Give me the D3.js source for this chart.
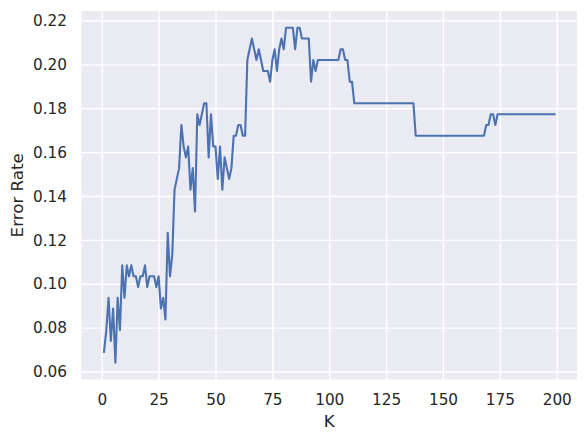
<!DOCTYPE html>
<html>
<head>
<meta charset="utf-8">
<script src="https://cdn.jsdelivr.net/npm/d3@7"></script>
<style>
  html, body { margin: 0; padding: 0; background: #ffffff; }
  svg { display: block; }
  text { font-family: "DejaVu Sans", sans-serif; fill: #262626; }
</style>
</head>
<body>
<svg id="chart" width="586" height="441"></svg>
<script>
// ---- data ----
const errorRate = [
  0.0690, 0.0788, 0.0936, 0.0739, 0.0887, 0.0640, 0.0936, 0.0788, 0.1084, 0.0936,
  0.1084, 0.1034, 0.1084, 0.1034, 0.1034, 0.0985, 0.1034, 0.1034, 0.1084, 0.0985,
  0.1034, 0.1034, 0.1034, 0.0985, 0.1034, 0.0887, 0.0936, 0.0837, 0.1232, 0.1034,
  0.1133, 0.1429, 0.1478, 0.1527, 0.1724, 0.1626, 0.1576, 0.1626, 0.1429, 0.1527,
  0.1330, 0.1773, 0.1724, 0.1773, 0.1823, 0.1823, 0.1576, 0.1773, 0.1626, 0.1626,
  0.1478, 0.1626, 0.1429, 0.1576, 0.1527, 0.1478, 0.1527, 0.1675, 0.1675, 0.1724,
  0.1724, 0.1675, 0.1675, 0.2020, 0.2069, 0.2118, 0.2069, 0.2020, 0.2069, 0.2020,
  0.1970, 0.1970, 0.1970, 0.1921, 0.2020, 0.2069, 0.1970, 0.2069, 0.2118, 0.2069,
  0.2167, 0.2167, 0.2167, 0.2167, 0.2069, 0.2167, 0.2167, 0.2118, 0.2118, 0.2118,
  0.2118, 0.1921, 0.2020, 0.1970, 0.2020, 0.2020, 0.2020, 0.2020, 0.2020, 0.2020,
  0.2020, 0.2020, 0.2020, 0.2020, 0.2069, 0.2069, 0.2020, 0.2020, 0.1921, 0.1921,
  0.1823, 0.1823, 0.1823, 0.1823, 0.1823, 0.1823, 0.1823, 0.1823, 0.1823, 0.1823,
  0.1823, 0.1823, 0.1823, 0.1823, 0.1823, 0.1823, 0.1823, 0.1823, 0.1823, 0.1823,
  0.1823, 0.1823, 0.1823, 0.1823, 0.1823, 0.1823, 0.1823, 0.1675, 0.1675, 0.1675,
  0.1675, 0.1675, 0.1675, 0.1675, 0.1675, 0.1675, 0.1675, 0.1675, 0.1675, 0.1675,
  0.1675, 0.1675, 0.1675, 0.1675, 0.1675, 0.1675, 0.1675, 0.1675, 0.1675, 0.1675,
  0.1675, 0.1675, 0.1675, 0.1675, 0.1675, 0.1675, 0.1675, 0.1675, 0.1724, 0.1724,
  0.1773, 0.1773, 0.1724, 0.1773, 0.1773, 0.1773, 0.1773, 0.1773, 0.1773, 0.1773,
  0.1773, 0.1773, 0.1773, 0.1773, 0.1773, 0.1773, 0.1773, 0.1773, 0.1773, 0.1773,
  0.1773, 0.1773, 0.1773, 0.1773, 0.1773, 0.1773, 0.1773, 0.1773, 0.1773
];
const kValues = errorRate.map((_, i) => i + 1);   // K = 1 .. 199
const xTicks = [0, 25, 50, 75, 100, 125, 150, 175, 200];
const yTicks = [0.06, 0.08, 0.10, 0.12, 0.14, 0.16, 0.18, 0.20, 0.22];
const xLabel = "K";
const yLabel = "Error Rate";

// ---- layout ----
const plot = { left: 81.5, right: 577, top: 11, bottom: 379.5 };
const svg = d3.select("#chart");

const xMin = d3.min(kValues), xMax = d3.max(kValues);
const xPad = (xMax - xMin) * 0.05;
const yMin = d3.min(errorRate), yMax = d3.max(errorRate);
const yPad = (yMax - yMin) * 0.05;

const x = d3.scaleLinear().domain([xMin - xPad, xMax + xPad]).range([plot.left, plot.right]);
const y = d3.scaleLinear().domain([yMin - yPad, yMax + yPad]).range([plot.bottom, plot.top]);

// background
svg.append("rect")
  .attr("x", plot.left).attr("y", plot.top)
  .attr("width", plot.right - plot.left).attr("height", plot.bottom - plot.top)
  .attr("fill", "#EAEAF2");

// grid via axes
const xAxis = d3.axisBottom(x).tickValues(xTicks).tickSize(-(plot.bottom - plot.top)).tickPadding(15).tickFormat(d3.format("d"));
const yAxis = d3.axisLeft(y).tickValues(yTicks).tickSize(-(plot.right - plot.left)).tickPadding(14.5).tickFormat(d3.format(".2f"));

const gx = svg.append("g").attr("transform", `translate(0,${plot.bottom})`).call(xAxis);
const gy = svg.append("g").attr("transform", `translate(${plot.left},0)`).call(yAxis);

[gx, gy].forEach(g => {
  g.select(".domain").remove();
  g.selectAll(".tick line").attr("stroke", "#ffffff").attr("stroke-width", 1.4);
  g.selectAll(".tick text")
    .attr("fill", "#262626")
    .style("font-family", "'DejaVu Sans', sans-serif")
    .style("font-size", "15.3px");
});
gx.selectAll(".tick text").attr("dy", "0.71em");
gy.selectAll(".tick text").attr("dy", "0.34em");

// line
const line = d3.line()
  .x((d, i) => x(kValues[i]))
  .y(d => y(d));

svg.append("path")
  .datum(errorRate)
  .attr("fill", "none")
  .attr("stroke", "#4C72B0")
  .attr("stroke-width", 2.1)
  .attr("stroke-linejoin", "round")
  .attr("stroke-linecap", "square")
  .attr("d", line);

// axis labels
svg.append("text")
  .attr("x", (plot.left + plot.right) / 2)
  .attr("y", 427)
  .attr("text-anchor", "middle")
  .style("font-size", "16.7px")
  .text(xLabel);

svg.append("text")
  .attr("transform", `translate(23,${(plot.top + plot.bottom) / 2}) rotate(-90)`)
  .attr("text-anchor", "middle")
  .style("font-size", "16.7px")
  .text(yLabel);
</script>
</body>
</html>
